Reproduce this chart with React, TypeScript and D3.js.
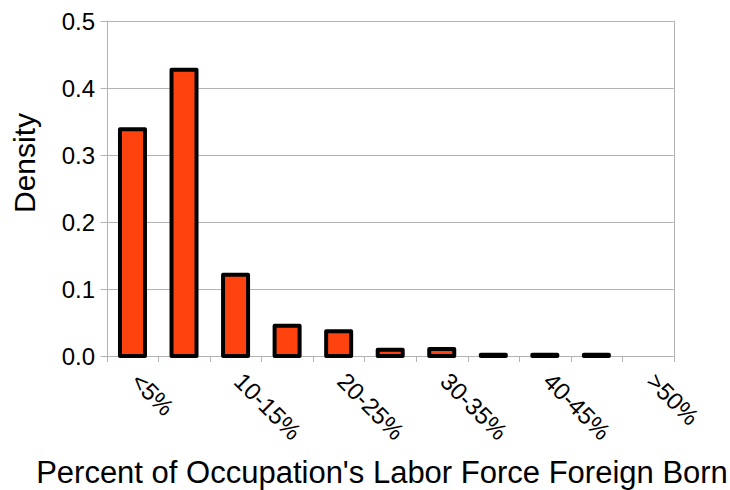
import React, { useEffect, useRef } from "react";
import * as d3 from "d3";

const categories = ["<5%", "5-10%", "10-15%", "15-20%", "20-25%", "25-30%", "30-35%", "35-40%", "40-45%", "45-50%", ">50%"];
const densities: (number | null)[] = [0.338, 0.427, 0.121, 0.045, 0.037, 0.0094, 0.0105, 0.002, 0.002, 0.002, null];
const yTicks = [0, 0.1, 0.2, 0.3, 0.4, 0.5];
const shownLabels = ["<5%", "10-15%", "20-25%", "30-35%", "40-45%", ">50%"];

const W = 730, H = 490;
const M = { left: 106.7, right: 673.7, top: 20.7, bottom: 356 };
const FONT = "'Liberation Sans', Arial, sans-serif";

export default function App() {
  const ref = useRef<SVGSVGElement>(null);
  useEffect(() => {
    const svg = d3.select(ref.current);
    svg.selectAll("*").remove();
    const x = d3.scaleBand().domain(categories).range([M.left, M.right]).paddingInner(0).paddingOuter(0);
    const y = d3.scaleLinear().domain([0, 0.5]).range([M.bottom, M.top]);
    const grid = "#b3b3b3";

    // gridlines
    svg.append("g").selectAll("line").data(yTicks).join("line")
      .attr("x1", M.left - 6).attr("x2", M.right)
      .attr("y1", d => Math.round(y(d)) + 0.5).attr("y2", d => Math.round(y(d)) + 0.5)
      .attr("stroke", grid).attr("stroke-width", 1);
    // left axis & right border
    svg.append("line").attr("x1", Math.round(M.left) + 0.5).attr("x2", Math.round(M.left) + 0.5)
      .attr("y1", M.top).attr("y2", M.bottom + 6).attr("stroke", grid);
    svg.append("line").attr("x1", Math.round(M.right) + 0.5).attr("x2", Math.round(M.right) + 0.5)
      .attr("y1", M.top).attr("y2", M.bottom + 6).attr("stroke", grid);
    // x ticks
    const bounds = categories.map(c => x(c) as number).concat([M.right]);
    svg.append("g").selectAll("line").data(bounds).join("line")
      .attr("x1", d => Math.round(d) + 0.5).attr("x2", d => Math.round(d) + 0.5)
      .attr("y1", M.bottom).attr("y2", M.bottom + 6).attr("stroke", grid);

    // bars
    const bw = 25;
    svg.append("g").selectAll("rect").data(categories.map((c, i) => ({ c, v: densities[i] })).filter(d => d.v !== null))
      .join("rect")
      .attr("x", d => (x(d.c) as number) + x.bandwidth() / 2 - bw / 2)
      .attr("width", bw)
      .attr("y", d => y(d.v as number))
      .attr("height", d => y(0) - y(d.v as number))
      .attr("fill", "#ff420e").attr("stroke", "#000").attr("stroke-width", 4)
      .attr("stroke-linejoin", "round");

    // y labels
    svg.append("g").selectAll("text").data(yTicks).join("text")
      .attr("x", 95).attr("y", d => y(d) + 9)
      .attr("text-anchor", "end").attr("font-family", FONT).attr("font-size", 24)
      .text(d => d3.format(".1f")(d));

    // x labels
    svg.append("g").selectAll("text").data(shownLabels).join("text")
      .attr("transform", d => `translate(${(x(d) as number) + x.bandwidth() / 2 - 3},383) rotate(45)`)
      .attr("font-family", FONT).attr("font-size", 24)
      .text(d => d);

    svg.append("text").attr("transform", "translate(35,163) rotate(-90)")
      .attr("text-anchor", "middle").attr("font-family", FONT).attr("font-size", 30).text("Density");
    svg.append("text").attr("x", 382).attr("y", 483)
      .attr("text-anchor", "middle").attr("font-family", FONT).attr("font-size", 31)
      .text("Percent of Occupation's Labor Force Foreign Born");
  }, []);
  return (
    <svg ref={ref} width={W} height={H} style={{ position: "absolute", left: 0, top: 0, background: "#fff" }} />
  );
}
